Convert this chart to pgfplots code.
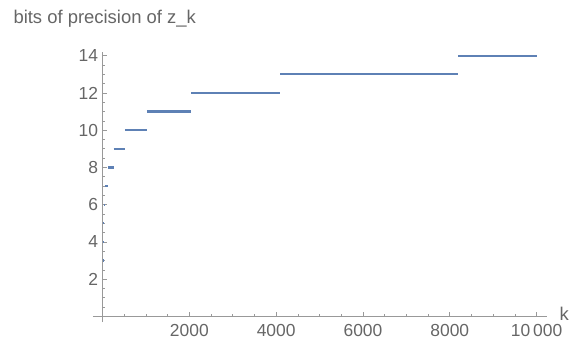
\documentclass[border=0pt]{standalone}
\usepackage{pgfplots}
\pgfplotsset{compat=1.18}
\usepackage{fontspec}
\setmainfont{Liberation Sans}
\definecolor{mblue}{rgb}{0.368417,0.506779,0.709798}
\definecolor{txtgray}{gray}{0.4}
\definecolor{axgray}{gray}{0.6}
\pgfplotstableread{
k v
4 3
7 3
nan nan
8 4
15 4
nan nan
16 5
31 5
nan nan
32 6
63 6
nan nan
64 7
127 7
nan nan
128 8
255 8
nan nan
256 9
511 9
nan nan
512 10
1023 10
nan nan
1024 11
2047 11
nan nan
2048 12
4095 12
nan nan
4096 13
8191 13
nan nan
8192 14
10000 14
}\datatab
\begin{document}
\begin{tikzpicture}
\begin{axis}[
  scale only axis,
  width=454bp, height=270bp,
  xmin=-220, xmax=10240, ymin=-0.3, ymax=14.2,
  axis lines=middle,
  axis line style={axgray, line width=0.8bp, -},
  clip=false,
  xtick={2000,4000,6000,8000,10000},
  xticklabels={2000,4000,6000,8000,10\,000},
  minor xtick={500,1000,1500,2500,3000,3500,4500,5000,5500,6500,7000,7500,8500,9000,9500},
  ytick={2,4,6,8,10,12,14},
  minor ytick={0.5,1,1.5,2.5,3,3.5,4.5,5,5.5,6.5,7,7.5,8.5,9,9.5,10.5,11,11.5,12.5,13,13.5},
  tick align=inside,
  major tick length=4.5bp, minor tick length=2.5bp,
  tick style={axgray, line width=0.7bp},
  /pgf/number format/assume math mode=true,
  ticklabel style={font=\fontsize{17.5}{20}\selectfont, text=txtgray},
  xticklabel style={yshift=-3bp, inner sep=2bp, outer sep=3bp},
  yticklabel style={xshift=-1bp},
  unbounded coords=jump,
  xlabel={k}, ylabel={bits of precision of z\_k},
  xlabel style={at={(axis cs:10240,0)}, anchor=west, xshift=9bp, yshift=3bp, font=\fontsize{18.5}{22}\selectfont, text=txtgray},
  ylabel style={rotate=0, at={(rel axis cs:0,1)}, anchor=base west, xshift=-83bp, yshift=28bp, font=\fontsize{18.5}{22}\selectfont, text=txtgray},
]
\addplot[mblue, line width=2.3bp, no marks] table[x=k, y=v] {\datatab};
\coordinate (o) at (rel axis cs:0,0);
\end{axis}
\pgfresetboundingbox
\path ([shift={(-93bp,-19bp)}]o) rectangle ([shift={(476bp,322bp)}]o);
\end{tikzpicture}
\end{document}
